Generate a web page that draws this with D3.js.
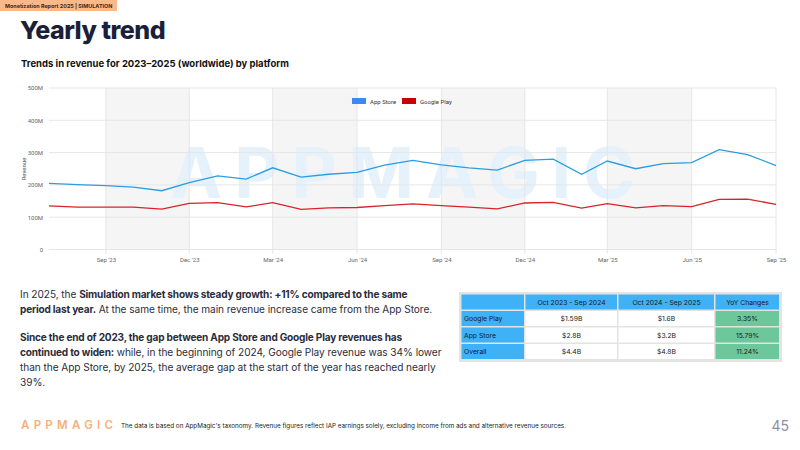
<!DOCTYPE html>
<html><head><meta charset="utf-8">
<script src="https://cdn.jsdelivr.net/npm/d3@7"></script>
<style>
html,body{margin:0;padding:0;background:#fff;}
svg{display:block;font-family:Inter,"Noto Sans",sans-serif;}
</style></head>
<body><svg id="c" width="800" height="450"></svg>
<script>
const months = ["2023-07","2023-08","2023-09","2023-10","2023-11","2023-12","2024-01","2024-02","2024-03","2024-04","2024-05","2024-06","2024-07","2024-08","2024-09","2024-10","2024-11","2024-12","2025-01","2025-02","2025-03","2025-04","2025-05","2025-06","2025-07","2025-08","2025-09"];
const appStore = [205,201,198,193,182,207,228,218,253,224,233,239,261,276,262,253,246,276,280,233,274,250,266,269,309,294,260];
const googlePlay = [135,131,131,131,125,143,145,132,145,124,129,130,136,141,136,131,126,144,146,128,142,129,136,133,155,156,140];
const yTicks = [0,100,200,300,400,500];
const xTickMonths = ["2023-09","2023-12","2024-03","2024-06","2024-09","2024-12","2025-03","2025-06","2025-09"];
const xTickLabels = ["Sep '23","Dec '23","Mar '24","Jun '24","Sep '24","Dec '24","Mar '25","Jun '25","Sep '25"];
const seriesNames = ["App Store","Google Play"];
const tableHeader = ["","Oct 2023 - Sep 2024","Oct 2024 - Sep 2025","YoY Changes"];
const tableRows = [["Google Play","$1.59B","$1.6B","3.35%"],["App Store","$2.8B","$3.2B","15.79%"],["Overall","$4.4B","$4.8B","11.24%"]];

const svg = d3.select("#c");
const parse = d3.timeParse("%Y-%m");
const dates = months.map(parse);

// header tag
svg.append("rect").attr("x",0).attr("y",0).attr("width",117).attr("height",11).attr("fill","#fbb98a");
svg.append("text").attr("x",5).attr("y",8).attr("font-size",5.4).attr("font-weight",700).attr("fill","#3a2a20")
  .text("Monetization Report 2025  |  SIMULATION");
svg.append("text").attr("x",20).attr("y",39).attr("font-size",25).attr("font-weight",800).attr("letter-spacing",-0.5).attr("fill","#1c1f3a").text("Yearly trend");
svg.append("text").attr("x",21).attr("y",67).attr("font-size",9.5).attr("font-weight",700).attr("fill","#111").text("Trends in revenue for 2023–2025 (worldwide) by platform");

// chart
const L=49, R=776, T=88, B=249.5;
const x = d3.scaleTime().domain([dates[0], dates[dates.length-1]]).range([L,R]);
const y = d3.scaleLinear().domain([0,500]).range([B,T]);
const g = svg.append("g");
const xt = xTickMonths.map(parse);
for(let i=0;i<xt.length-1;i+=2){
  g.append("rect").attr("x",x(xt[i])).attr("y",T).attr("width",x(xt[i+1])-x(xt[i])).attr("height",B-T).attr("fill","#f5f5f5");
}
// watermark
g.append("text").attr("x",170).attr("y",198).attr("font-size",70).attr("font-weight",700).attr("fill","#e5f1fb")
  .attr("textLength",465).attr("lengthAdjust","spacing").text("APPMAGIC");
// grid
g.selectAll(".hg").data(yTicks).join("line").attr("x1",L).attr("x2",R).attr("y1",d=>y(d)).attr("y2",d=>y(d))
  .attr("stroke","#e6e6e6").attr("stroke-width",1);
g.selectAll(".vg").data(xt).join("line").attr("x1",d=>x(d)).attr("x2",d=>x(d)).attr("y1",T).attr("y2",B+4)
  .attr("stroke","#e6e6e6").attr("stroke-width",1);
// axes
const yAxis = d3.axisLeft(y).tickValues(yTicks).tickSize(0).tickPadding(6).tickFormat(d=>d===0?"0":d+"M");
const ya = svg.append("g").attr("transform",`translate(${L},0)`).call(yAxis);
ya.select(".domain").remove();
ya.selectAll("text").attr("font-size",6).attr("fill","#666").attr("font-family","Roboto,sans-serif");
const xAxis = d3.axisBottom(x).tickValues(xt).tickSize(0).tickPadding(8).tickFormat((d,i)=>xTickLabels[i]);
const xa = svg.append("g").attr("transform",`translate(0,${B})`).call(xAxis);
xa.select(".domain").remove();
xa.selectAll("text").attr("font-size",6).attr("fill","#666").attr("font-family","Roboto,sans-serif");
svg.append("text").attr("transform","translate(26,169) rotate(-90)").attr("text-anchor","middle")
  .attr("font-size",6).attr("fill","#555").attr("font-family","Roboto,sans-serif").text("Revenue");

// lines
const line = d3.line().x((d,i)=>x(dates[i])).y(d=>y(d));
g.append("path").datum(googlePlay).attr("d",line).attr("fill","none").attr("stroke","#d8232a").attr("stroke-width",1.3);
g.append("path").datum(appStore).attr("d",line).attr("fill","none").attr("stroke","#2a9ee0").attr("stroke-width",1.3);

// legend
const legColors = ["#4286f4","#cc0000"];
const legX = [352,402];
seriesNames.forEach((n,i)=>{
  svg.append("rect").attr("x",legX[i]).attr("y",98).attr("width",14).attr("height",6).attr("fill",legColors[i]);
  svg.append("text").attr("x",legX[i]+18).attr("y",103.5).attr("font-size",6).attr("fill","#333").attr("font-family","Roboto,sans-serif").text(n);
});

// paragraph
const lines = [
  [[ "In 2025, the ",400],["Simulation market shows steady growth: +11% compared to the same",700]],
  [["period last year.",700],[" At the same time, the main revenue increase came from the App Store.",400]],
  [["Since the end of 2023, the gap between App Store and Google Play revenues has",700]],
  [["continued to widen:",700],[" while, in the beginning of 2024, Google Play revenue was 34% lower",400]],
  [["than the App Store, by 2025, the average gap at the start of the year has reached nearly",400]],
  [["39%.",400]]
];
const ly = [298,313,341,356,371,386];
lines.forEach((ln,i)=>{
  const t = svg.append("text").attr("x",20).attr("y",ly[i]).attr("font-size",10.1).attr("fill","#2b2d3c");
  ln.forEach(s=>t.append("tspan").attr("font-weight",s[1]).attr("letter-spacing",s[1]===700?-0.2:-0.05).attr("xml:space","preserve").text(s[0]));
});

// table
const colX = [461,525,618,715,780];
const rowY = [294,310.5,327,343.5,360];
const tg = svg.append("g");
tg.append("rect").attr("x",459).attr("y",292).attr("width",323).attr("height",70).attr("fill","#e3e3e3");
[tableHeader,...tableRows].forEach((row,ri)=>{
  row.forEach((cell,ci)=>{
    let fill = "#fff";
    if(ri===0 || ci===0) fill="#3fb1f6";
    else if(ci===3) fill="#6cc79a";
    tg.append("rect").attr("x",colX[ci]+0.5).attr("y",rowY[ri]+0.5).attr("width",colX[ci+1]-colX[ci]-1.5).attr("height",rowY[ri+1]-rowY[ri]-1.5).attr("fill",fill);
    const tx = ci===0 ? colX[0]+3 : (colX[ci]+colX[ci+1])/2;
    tg.append("text").attr("x",tx).attr("y",(rowY[ri]+rowY[ri+1])/2+2.5).attr("text-anchor",ci===0?"start":"middle")
      .attr("font-size",6.8).attr("fill","#1a1a1a").text(cell);
  });
});

// footer
svg.append("text").attr("x",21).attr("y",429).attr("font-size",11.5).attr("font-weight",600).attr("fill","#f6b07c")
  .attr("textLength",92).attr("lengthAdjust","spacing").text("APPMAGIC");
svg.append("text").attr("x",121).attr("y",428).attr("font-size",6).attr("fill","#222")
  .attr("textLength",445).attr("lengthAdjust","spacingAndGlyphs")
  .text("The data is based on AppMagic's taxonomy. Revenue figures reflect IAP earnings solely, excluding income from ads and alternative revenue sources.");
svg.append("text").attr("x",789).attr("y",431).attr("text-anchor","end").attr("font-size",14).attr("fill","#8a8fa3").text("45");
</script></body></html>
